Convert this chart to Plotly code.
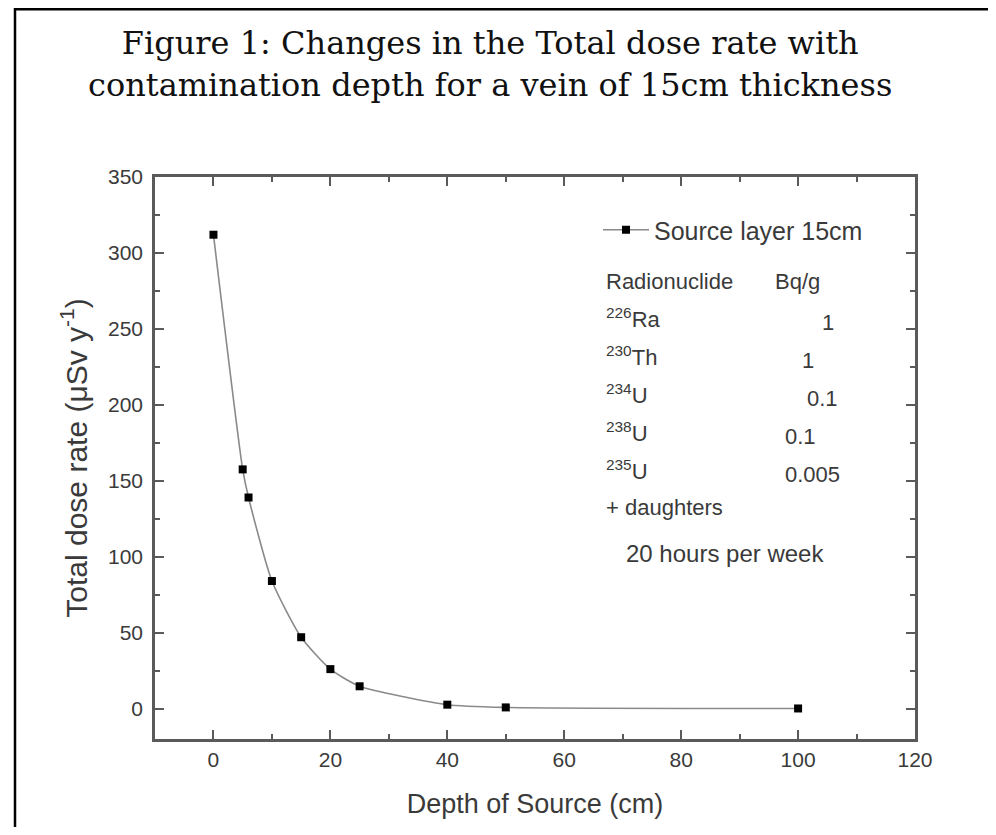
import plotly.graph_objects as go

# Data
depth_cm = [0, 5, 6, 10, 15, 20, 25, 40, 50, 100]
dose_rate = [312, 157.5, 139, 84, 47, 26, 14.7, 2.6, 0.8, 0.1]

x_ticks = [0, 20, 40, 60, 80, 100, 120]
y_ticks = [0, 50, 100, 150, 200, 250, 300, 350]

nuclides = ["<sup>226</sup>Ra", "<sup>230</sup>Th", "<sup>234</sup>U", "<sup>238</sup>U", "<sup>235</sup>U"]
activities = ["1", "1", "0.1", "0.1", "0.005"]

TXT = "#3a3a3a"
AX = "#5a5a5a"
SANS = "Liberation Sans, Arial, sans-serif"

# page offset (body margin) compensation
OFF = 8
L, R, T, B = 155 - OFF, 81, 177 - OFF, 88
W = L + (915 - 155) + R
H = T + (739 - 177) + B

fig = go.Figure()
fig.add_trace(go.Scatter(
    x=depth_cm, y=dose_rate, mode="lines+markers",
    name="Source layer 15cm",
    line=dict(color="#8a8a8a", width=1.6, shape="spline", smoothing=0.6),
    marker=dict(symbol="square", size=8, color="#000000"),
))

axis_common = dict(
    showline=True, linecolor=AX, linewidth=2.5, mirror="ticks",
    ticks="inside", ticklen=9, tickwidth=2, tickcolor=AX,
    showgrid=False, zeroline=False,
    tickfont=dict(family=SANS, size=21, color=TXT),
)

fig.update_xaxes(
    range=[-10, 120], tickvals=x_ticks,
    minor=dict(dtick=10, tick0=0, ticks="inside", ticklen=5, tickwidth=2, tickcolor=AX),
    title=dict(text="Depth of Source (cm)", font=dict(family=SANS, size=27, color=TXT), standoff=25),
    **axis_common,
)
fig.update_yaxes(
    range=[-20, 350], tickvals=y_ticks,
    minor=dict(dtick=25, tick0=0, ticks="inside", ticklen=5, tickwidth=2, tickcolor=AX),
    ticklabelstandoff=5,
    title=dict(text="Total dose rate (μSv y<sup>-1</sup>)", font=dict(family=SANS, size=30, color=TXT), standoff=12),
    **axis_common,
)


def px_x(px):
    return (px - 155) / (915 - 155)


def px_y(py):
    return 1 - (py - 177) / (739 - 177)


annotations = []
annotations.append(dict(
    text="Figure 1: Changes in the Total dose rate with<br>contamination depth for a vein of 15cm thickness",
    x=px_x(490), y=px_y(64), xref="paper", yref="paper", showarrow=False,
    xanchor="center", yanchor="middle",
    font=dict(family="DejaVu Serif, serif", size=32, color="#111111"),
    align="center",
))

ann_font = dict(family=SANS, size=22, color=TXT)
annotations.append(dict(text="Radionuclide", x=px_x(604), y=px_y(281), xref="paper", yref="paper",
                        xanchor="left", yanchor="middle", showarrow=False, font=ann_font))
annotations.append(dict(text="Bq/g", x=px_x(797), y=px_y(281), xref="paper", yref="paper",
                        xanchor="center", yanchor="middle", showarrow=False, font=ann_font))
row_y = [318, 356, 394, 432, 470]
val_x = [828, 808, 822, 800, 812]
for nm, val, ry, vx in zip(nuclides, activities, row_y, val_x):
    annotations.append(dict(text=nm, x=px_x(604), y=px_y(ry), xref="paper", yref="paper",
                            xanchor="left", yanchor="middle", showarrow=False, font=ann_font))
    annotations.append(dict(text=val, x=px_x(vx), y=px_y(ry + 4), xref="paper", yref="paper",
                            xanchor="center", yanchor="middle", showarrow=False, font=ann_font))
annotations.append(dict(text="+ daughters", x=px_x(604), y=px_y(507), xref="paper", yref="paper",
                        xanchor="left", yanchor="middle", showarrow=False, font=ann_font))
annotations.append(dict(text="20 hours per week", x=px_x(725), y=px_y(553), xref="paper", yref="paper",
                        xanchor="center", yanchor="middle", showarrow=False,
                        font=dict(family=SANS, size=24, color=TXT)))

fig.update_layout(
    width=W, height=H,
    margin=dict(l=L, r=R, t=T, b=B),
    paper_bgcolor="white", plot_bgcolor="white",
    showlegend=True,
    legend=dict(x=px_x(598), y=px_y(207), xanchor="left", yanchor="top",
                bgcolor="rgba(0,0,0,0)", font=dict(family=SANS, size=25, color=TXT),
                itemwidth=46),
    annotations=annotations,
    shapes=[
        dict(type="line", xref="paper", yref="paper", x0=px_x(15), x1=px_x(1000),
             y0=px_y(OFF + 1), y1=px_y(OFF + 1), line=dict(color="black", width=3)),
        dict(type="line", xref="paper", yref="paper", x0=px_x(15), x1=px_x(15),
             y0=px_y(OFF), y1=px_y(900), line=dict(color="black", width=2.5)),
    ],
)

fig.write_html("out.html")
